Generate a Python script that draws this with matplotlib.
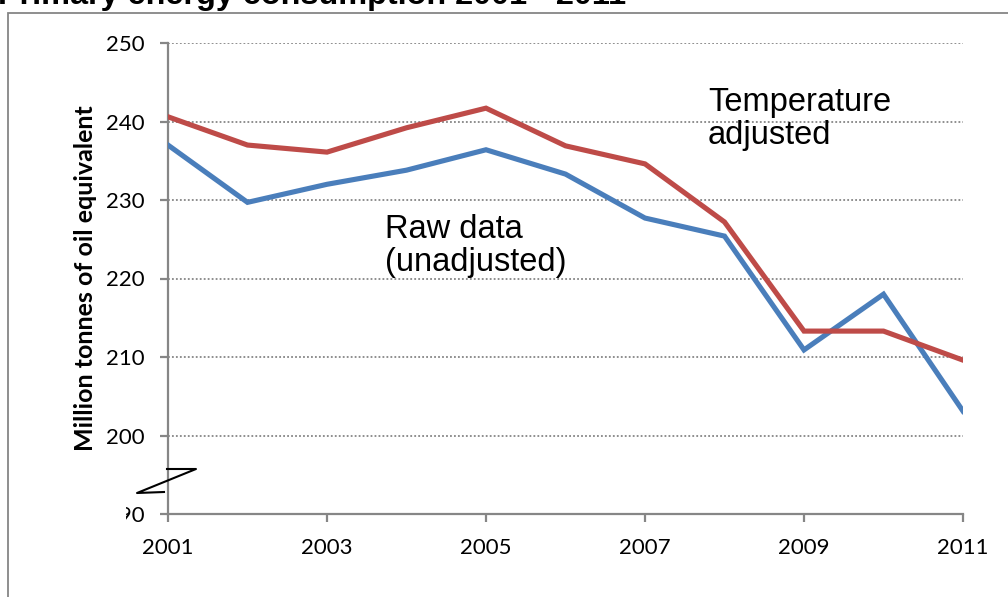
import matplotlib.pyplot as plt
from matplotlib.patches import Rectangle, Polygon
from matplotlib.lines import Line2D

years = [2001, 2002, 2003, 2004, 2005, 2006, 2007, 2008, 2009, 2010, 2011]
raw_data = [237.0, 229.7, 232.0, 233.8, 236.4, 233.3, 227.7, 225.4, 210.9, 218.0, 203.1]
temp_adjusted = [240.6, 237.0, 236.1, 239.2, 241.7, 236.9, 234.6, 227.2, 213.3, 213.3, 209.6]
x_ticks = [2001, 2003, 2005, 2007, 2009, 2011]
y_ticks = [190, 200, 210, 220, 230, 240, 250]

W, H = 1008, 597
fig = plt.figure(figsize=(W / 100, H / 100), dpi=100)
ax = fig.add_axes([168 / W, 1 - 514 / H, (963 - 168) / W, (514 - 43) / H])

grey = "#868686"
ax.plot(years, raw_data, color="#4A7EBB", lw=3.7, solid_joinstyle="miter", zorder=3)
ax.plot(years, temp_adjusted, color="#BE4B48", lw=3.7, solid_joinstyle="miter", zorder=4)

ax.set_xlim(2001, 2011)
ax.set_ylim(190, 250)
ax.set_xticks(x_ticks)
ax.set_yticks(y_ticks)
ax.set_xticklabels([str(t) for t in x_ticks], fontfamily="Lato", fontsize=16)
ax.set_yticklabels([str(t) for t in y_ticks], fontfamily="Lato", fontsize=16)

for v in y_ticks[1:]:
    ax.axhline(v, color=grey, lw=1.3, ls=(0, (1, 1.2)), zorder=1)

for s in ["top", "right"]:
    ax.spines[s].set_visible(False)
for s in ["left", "bottom"]:
    ax.spines[s].set_color(grey)
    ax.spines[s].set_linewidth(1.6)
ax.tick_params(axis="both", direction="out", length=6, width=1.6, color=grey, pad=11)

ax.set_ylabel("Million tonnes of oil equivalent", fontfamily="Lato",
              fontweight="bold", fontsize=18, labelpad=6)

# va="baseline" on multi-line text anchors the last line
ax.text(2007.79, 237.1, "Temperature\nadjusted", fontfamily="Liberation Sans",
        fontsize=23.5, linespacing=1.1, va="baseline", ha="left")
ax.text(2003.73, 220.9, "Raw data\n(unadjusted)", fontfamily="Liberation Sans",
        fontsize=23.5, linespacing=1.1, va="baseline", ha="left")

# title, mostly cut off by the top edge
fig.text(-2 / W, 1 - 4 / H, "Primary energy consumption 2001 - 2011",
         fontfamily="Liberation Sans", fontweight="bold", fontsize=23.3,
         ha="left", va="baseline")

# outer chart frame
px = fig.dpi_scale_trans
fig.patches.append(Rectangle((8 / 100, (H - 1200) / 100), 20, (1200 - 13) / 100,
                             transform=px, fill=False, edgecolor=grey, lw=1.3))

# axis break mark
fig.patches.append(Polygon([(108 / 100, (H - 500) / 100), (126 / 100, (H - 500) / 100),
                            (126 / 100, (H - 526) / 100), (108 / 100, (H - 526) / 100)],
                           transform=px, facecolor="white", edgecolor="none", zorder=5))
zx = [167, 196, 137, 164]
zy = [469, 469, 493, 492]
fig.lines.append(Line2D([x / 100 for x in zx], [(H - y) / 100 for y in zy],
                        transform=px, color="black", lw=1.5, zorder=6))

fig.savefig("out.png", dpi=100)
